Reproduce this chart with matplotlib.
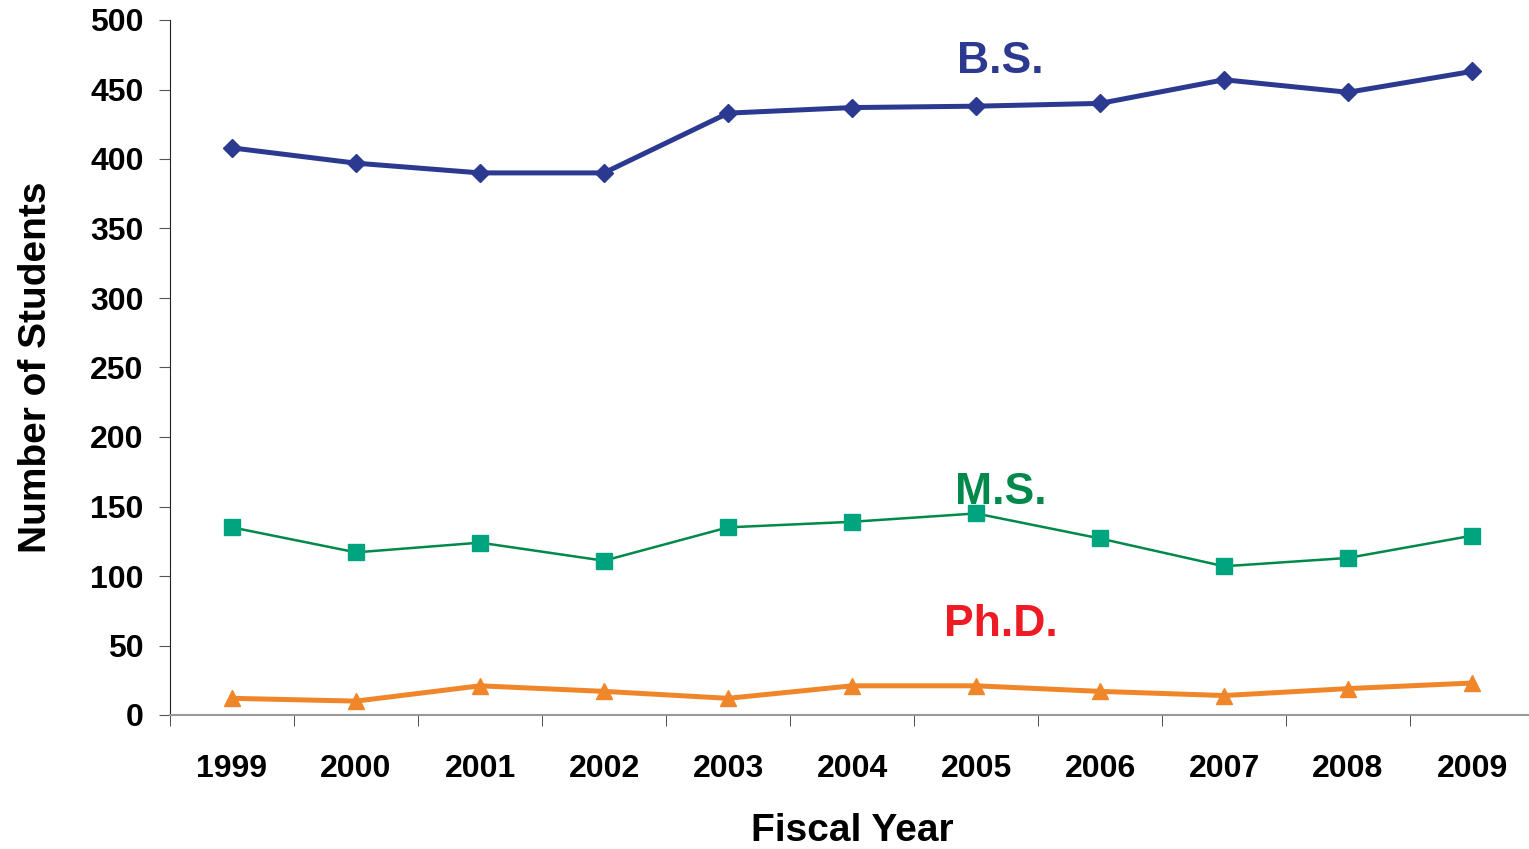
import numpy as np
import matplotlib.pyplot as plt

years = ['1999', '2000', '2001', '2002', '2003', '2004', '2005', '2006', '2007', '2008', '2009']
bs = [408, 397, 390, 390, 433, 437, 438, 440, 457, 448, 463]
ms = [135, 117, 124, 111, 135, 139, 145, 127, 107, 113, 129]
phd = [12, 10, 21, 17, 12, 21, 21, 17, 14, 19, 23]

plt.rcParams['font.family'] = ['Liberation Sans', 'DejaVu Sans']
plt.rcParams['font.weight'] = 'bold'

fig = plt.figure(figsize=(15.29, 8.49), dpi=100)
# plot area runs slightly past the right edge of the figure, as in the original
ax = fig.add_axes([170 / 1529, 134 / 849, 1364 / 1529, 695 / 849])

x = np.arange(len(years))
ax.plot(x, bs, color='#2B3990', lw=3.6, marker='D', ms=9, mfc='#2B3990', mec='#2B3990', clip_on=False)
ax.plot(x, ms, color='#00894A', lw=1.8, marker='s', ms=11, mfc='#00A57F', mec='#00A57F', clip_on=False)
ax.plot(x, phd, color='#F0862A', lw=3.6, marker='^', ms=12, mfc='#F0862A', mec='#F0862A', clip_on=False)

# series labels placed in data coordinates
ax.text(6.2, 470, 'B.S.', color='#2B3990', fontsize=32, fontweight='bold', ha='center', va='center')
ax.text(6.2, 160, 'M.S.', color='#00894A', fontsize=32, fontweight='bold', ha='center', va='center')
ax.text(6.2, 65, 'Ph.D.', color='#ED1C24', fontsize=32, fontweight='bold', ha='center', va='center')

ax.set_xlim(-0.5, len(years) - 0.5)
ax.set_ylim(0, 500)
ax.set_yticks(np.arange(0, 501, 50))
ax.set_xticks(x)
ax.set_xticklabels(years)
ax.set_xticks(np.arange(-0.5, len(years), 1), minor=True)
ax.tick_params(axis='x', which='major', length=0, pad=28, labelsize=23)
ax.tick_params(axis='x', which='minor', length=8, direction='out', color='#333333')
ax.tick_params(axis='y', length=8, direction='out', labelsize=23, pad=11, color='#555555')

for s in ['top', 'right']:
    ax.spines[s].set_visible(False)
ax.spines['left'].set_color('#222222')
ax.spines['bottom'].set_color('#999999')
ax.spines['bottom'].set_linewidth(1.5)

ax.set_xlabel('Fiscal Year', fontsize=28, fontweight='bold', labelpad=21)
ax.set_ylabel('Number of Students', fontsize=28, fontweight='bold', labelpad=26)

fig.savefig('out.png', dpi=100)
